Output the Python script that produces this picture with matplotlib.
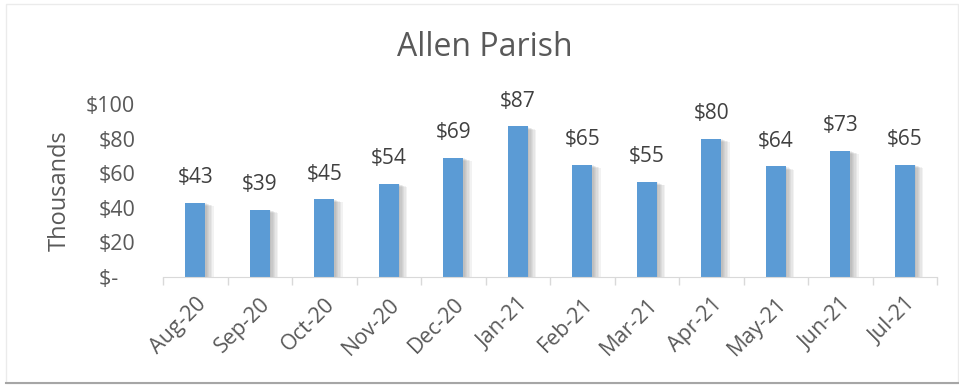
import matplotlib
import matplotlib.pyplot as plt
import matplotlib.patheffects as pe
from matplotlib.patches import Rectangle

matplotlib.pyplot.switch_backend('Agg')

months = ["Aug-20", "Sep-20", "Oct-20", "Nov-20", "Dec-20", "Jan-21",
          "Feb-21", "Mar-21", "Apr-21", "May-21", "Jun-21", "Jul-21"]
sales = [43, 39, 45, 54, 69, 87, 65, 55, 80, 64, 73, 65]
y_ticks = [0, 20, 40, 60, 80, 100]
y_tick_labels = ["$-   ", "$20", "$40", "$60", "$80", "$100"]

BAR_COLOR = "#5B9BD5"
TEXT_COLOR = "#595959"
AXIS_COLOR = "#D9D9D9"

plt.rcParams['font.family'] = ['Open Sans', 'DejaVu Sans']

fig = plt.figure(figsize=(9.59, 3.85), dpi=100)
W, H = 959, 385
ax = fig.add_axes([163 / W, 1 - 277 / H, 774 / W, 173 / H])

x = list(range(len(months)))
bars = ax.bar(x, sales, width=0.31, color=BAR_COLOR, zorder=3)
# soft drop shadow to the lower right, built from a few faint layers
shadow = [pe.SimplePatchShadow(offset=(k, -k * 0.4), shadow_rgbFace="#606060", alpha=0.08)
          for k in (6, 5, 4, 3, 2, 1)]
for b in bars:
    b.set_path_effects(shadow + [pe.Normal()])

for xi, v in zip(x, sales):
    ax.annotate(f"${v}", (xi, v), xytext=(0, 14), textcoords="offset points",
                ha="center", va="baseline", fontsize=15, color="#404040")

ax.set_xlim(-0.5, len(months) - 0.5)
ax.set_ylim(0, 100)
ax.set_yticks(y_ticks)
ax.set_yticklabels(y_tick_labels)
ax.set_xticks([i - 0.5 for i in range(len(months) + 1)], minor=True)
ax.set_xticks(x)
ax.set_xticklabels(months, rotation=45, ha="right", rotation_mode="anchor")
ax.tick_params(axis="x", which="major", length=0, pad=12, labelsize=15.5, colors=TEXT_COLOR)
ax.tick_params(axis="x", which="minor", length=6, color=AXIS_COLOR, width=1)
ax.tick_params(axis="y", length=0, pad=20, labelsize=15.5, colors=TEXT_COLOR)
for side in ["top", "right", "left"]:
    ax.spines[side].set_visible(False)
ax.spines["bottom"].set_color(AXIS_COLOR)
ax.spines["bottom"].set_zorder(4)

ax.set_ylabel("Thousands", fontsize=17, color=TEXT_COLOR, labelpad=10)
fig.text(485 / W, 1 - 47 / H, "Allen Parish", ha="center", va="center",
         fontsize=23, color=TEXT_COLOR)

# chart frame
fig.patches.append(Rectangle((6 / W, 2 / H), 1 - 7 / W, 1 - 6 / H, transform=fig.transFigure,
                             fill=False, edgecolor="#EBEBEB", linewidth=1))
fig.lines.append(plt.Line2D([6 / W, 1], [2 / H, 2 / H], transform=fig.transFigure,
                            color="#A6A6A6", linewidth=1.5))

plt.savefig("out.png", dpi=100)
